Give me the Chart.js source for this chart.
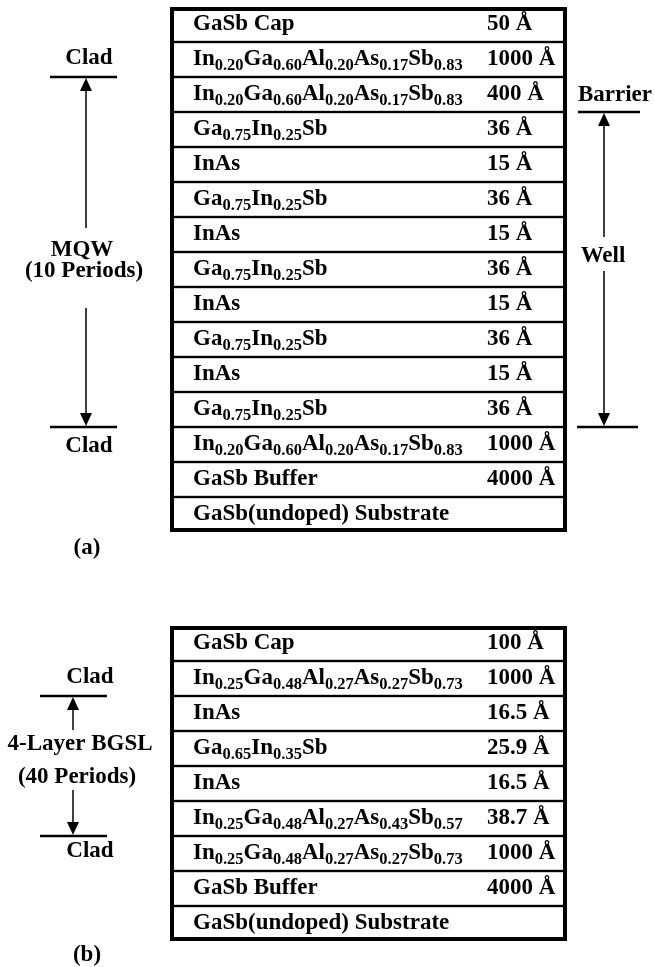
<!DOCTYPE html>
<html>
<head>
<meta charset="utf-8">
<script src="https://cdn.jsdelivr.net/npm/chart.js@4.4.1/dist/chart.umd.min.js"></script>
<style>
  html, body { margin: 0; padding: 0; background: #fff; }
  #wrap { position: relative; width: 655px; height: 967px; }
  .panel { position: absolute; left: 0; width: 655px; }
</style>
</head>
<body>
<div id="wrap">
  <div class="panel" style="top:0;height:580px"><canvas id="stackA"></canvas></div>
  <div class="panel" style="top:580px;height:387px"><canvas id="stackB"></canvas></div>
</div>
<script>
// (a) MQW structure, layers listed from top (cap) to bottom (substrate)
const layersA = [
  'GaSb Cap',
  'In_{0.20}Ga_{0.60}Al_{0.20}As_{0.17}Sb_{0.83}',
  'In_{0.20}Ga_{0.60}Al_{0.20}As_{0.17}Sb_{0.83}',
  'Ga_{0.75}In_{0.25}Sb',
  'InAs',
  'Ga_{0.75}In_{0.25}Sb',
  'InAs',
  'Ga_{0.75}In_{0.25}Sb',
  'InAs',
  'Ga_{0.75}In_{0.25}Sb',
  'InAs',
  'Ga_{0.75}In_{0.25}Sb',
  'In_{0.20}Ga_{0.60}Al_{0.20}As_{0.17}Sb_{0.83}',
  'GaSb Buffer',
  'GaSb(undoped) Substrate'
];
// layer thickness in angstrom (substrate has none)
const thicknessA = [50, 1000, 400, 36, 15, 36, 15, 36, 15, 36, 15, 36, 1000, 4000, null];

// (b) 4-layer BGSL structure
const layersB = [
  'GaSb Cap',
  'In_{0.25}Ga_{0.48}Al_{0.27}As_{0.27}Sb_{0.73}',
  'InAs',
  'Ga_{0.65}In_{0.35}Sb',
  'InAs',
  'In_{0.25}Ga_{0.48}Al_{0.27}As_{0.43}Sb_{0.57}',
  'In_{0.25}Ga_{0.48}Al_{0.27}As_{0.27}Sb_{0.73}',
  'GaSb Buffer',
  'GaSb(undoped) Substrate'
];
const thicknessB = [100, 1000, 16.5, 25.9, 16.5, 38.7, 1000, 4000, null];

// side annotations: labels and the layer boundaries they point to
const bracketsA = [
  { topEdge: 2, bottomEdge: 12, topLabel: 'Clad', bottomLabel: 'Clad', middle: ['MQW', '(10 Periods)'] },
  { topEdge: 3, bottomEdge: 12, topLabel: 'Barrier', bottomLabel: '', middle: ['Well'] }
];
const bracketsB = [
  { topEdge: 2, bottomEdge: 6, topLabel: 'Clad', bottomLabel: 'Clad', middle: ['4-Layer BGSL', '(40 Periods)'] }
];
const panelTitles = ['(a)', '(b)'];

const SERIF = '"Liberation Serif", "Times New Roman", "DejaVu Serif", serif';
const MAIN_FONT = 'bold 23px ' + SERIF;
const SUB_FONT = 'bold 16.5px ' + SERIF;

// text with _{...} subscripts
function drawFormula(ctx, text, x, y) {
  const parts = text.split(/(_\{[^}]*\})/).filter(Boolean);
  let cx = x;
  parts.forEach(p => {
    if (p.startsWith('_{')) {
      const t = p.slice(2, -1);
      ctx.font = SUB_FONT;
      ctx.fillText(t, cx, y + 5);
      cx += ctx.measureText(t).width;
    } else {
      ctx.font = MAIN_FONT;
      ctx.fillText(p, cx, y);
      cx += ctx.measureText(p).width;
    }
  });
}

function centerText(ctx, text, x, y) {
  ctx.font = MAIN_FONT;
  ctx.textAlign = 'center';
  ctx.fillText(text, x, y);
  ctx.textAlign = 'left';
}

function hLine(ctx, x1, x2, y) {
  ctx.lineWidth = 2.5;
  ctx.beginPath(); ctx.moveTo(x1, y); ctx.lineTo(x2, y); ctx.stroke();
}

function arrow(ctx, x, from, tip) {
  const dir = tip > from ? 1 : -1;
  const headLen = 13, headHalf = 6;
  ctx.lineWidth = 1.5;
  ctx.beginPath(); ctx.moveTo(x, from); ctx.lineTo(x, tip - dir * headLen); ctx.stroke();
  ctx.beginPath();
  ctx.moveTo(x, tip);
  ctx.lineTo(x - headHalf, tip - dir * headLen);
  ctx.lineTo(x + headHalf, tip - dir * headLen);
  ctx.closePath(); ctx.fill();
}

const stackPlugin = {
  id: 'stack',
  afterDraw(chart, args, o) {
    const ctx = chart.ctx, ys = chart.scales.y, area = chart.chartArea;
    const names = chart.data.labels;
    const rowH = Math.abs(ys.getPixelForValue(1) - ys.getPixelForValue(0));
    const edge = k => ys.getPixelForValue(k) - rowH / 2;
    ctx.save();
    ctx.fillStyle = '#000';
    ctx.strokeStyle = '#000';
    // heavy outer frame
    ctx.lineWidth = 4;
    ctx.strokeRect(area.left + 2, area.top + 2, area.right - area.left - 4, area.bottom - area.top - 4);
    // layer names and thicknesses
    ctx.textBaseline = 'alphabetic';
    names.forEach((name, i) => {
      const base = ys.getPixelForValue(i) + 5;
      drawFormula(ctx, name, area.left + 23, base);
      const t = o.thickness[i];
      if (t !== null && t !== undefined) {
        ctx.font = MAIN_FONT;
        ctx.fillText(t + ' \u00C5', area.left + 317, base);
      }
    });
    // brackets beside the stack
    o.brackets.forEach((b, j) => {
      const g = o.geometry[j];
      const yt = edge(b.topEdge), yb = edge(b.bottomEdge);
      hLine(ctx, g.x1, g.x2, yt);
      hLine(ctx, g.x1b, g.x2b, yb);
      centerText(ctx, b.topLabel, g.labelX, yt - g.topGap);
      if (b.bottomLabel) centerText(ctx, b.bottomLabel, g.labelX, yb + g.bottomGap);
      arrow(ctx, g.ax, g.shaftTop, yt + 1);
      arrow(ctx, g.ax, g.shaftBottom, yb - 1);
      b.middle.forEach((m, k) => centerText(ctx, m, g.midX[k], g.midY[k]));
    });
    centerText(ctx, o.title, 87, o.titleY);
    ctx.restore();
  }
};

function buildStack(id, layers, thickness, brackets, geometry, title, titleY, pad) {
  return new Chart(document.getElementById(id), {
    type: 'bar',
    data: {
      labels: layers,
      datasets: [{
        data: layers.map(() => 1),
        backgroundColor: '#ffffff',
        borderColor: '#000000',
        borderWidth: 1.5,
        borderSkipped: false,
        barPercentage: 1,
        categoryPercentage: 1
      }]
    },
    options: {
      indexAxis: 'y',
      responsive: true,
      maintainAspectRatio: false,
      animation: false,
      events: [],
      layout: { padding: pad },
      scales: {
        x: { display: false, min: 0, max: 1 },
        y: { display: false }
      },
      plugins: {
        legend: { display: false },
        tooltip: { enabled: false },
        stack: { thickness, brackets, geometry, title, titleY }
      }
    },
    plugins: [stackPlugin]
  });
}

buildStack('stackA', layersA, thicknessA, bracketsA, [
  { x1: 50, x2: 117, x1b: 50, x2b: 117, ax: 86, labelX: 89, topGap: 13, bottomGap: 25,
    shaftTop: 228, shaftBottom: 308, midX: [82, 84], midY: [256, 277] },
  { x1: 578, x2: 640, x1b: 577, x2b: 638, ax: 604, labelX: 615, topGap: 11.5, bottomGap: 0,
    shaftTop: 237, shaftBottom: 271, midX: [603], midY: [261.5] }
], panelTitles[0], 553.5, { top: 7, bottom: 48, left: 170, right: 88 });

buildStack('stackB', layersB, thicknessB, bracketsB, [
  { x1: 40, x2: 107, x1b: 40, x2b: 107, ax: 73, labelX: 90, topGap: 13, bottomGap: 21,
    shaftTop: 150, shaftBottom: 210, midX: [80, 77], midY: [170, 203] }
], panelTitles[1], 380.5, { top: 46, bottom: 26, left: 170, right: 88 });
</script>
</body>
</html>
